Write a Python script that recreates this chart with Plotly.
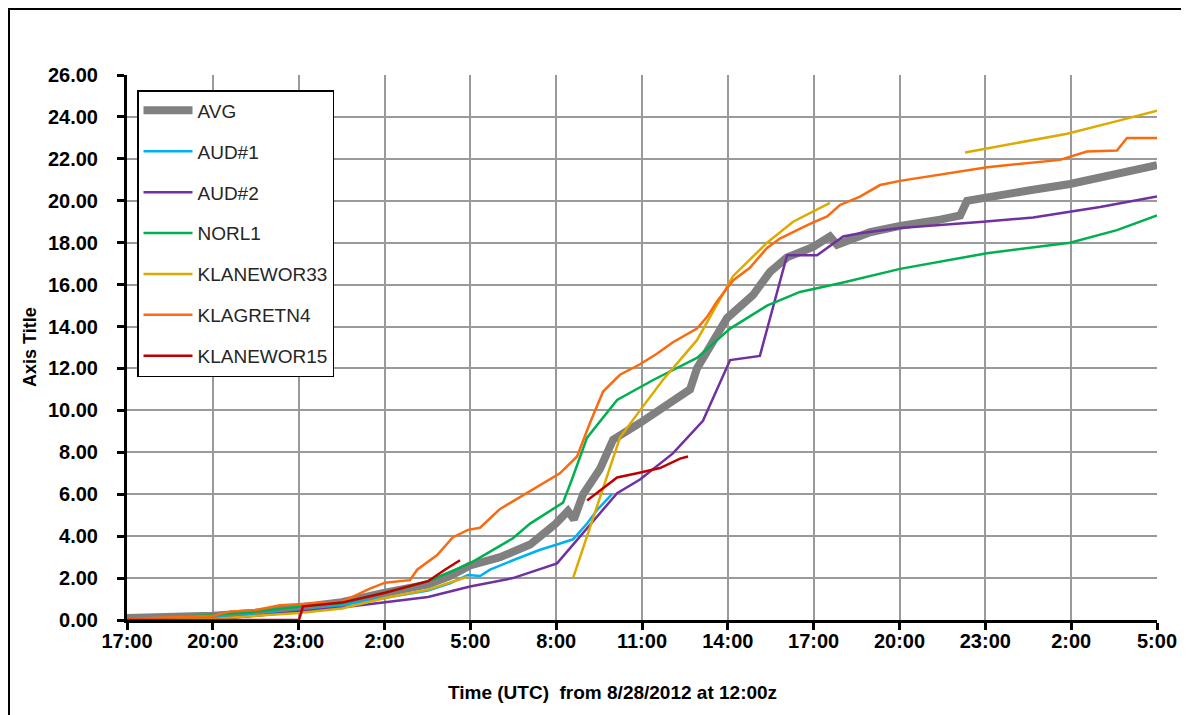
import plotly.graph_objects as go

# ---- data (hours after 17:00 on 8/28/2012) ----
TICK_VALS = [0, 3, 6, 9, 12, 15, 18, 21, 24, 27, 30, 33, 36]
TICK_LABELS = ["17:00", "20:00", "23:00", "2:00", "5:00", "8:00", "11:00",
               "14:00", "17:00", "20:00", "23:00", "2:00", "5:00"]

AVG_T = [0, 1.5, 3.01, 4.51, 6.01, 7.51, 9.02, 10.52, 11.29, 11.99, 13.04, 14.09, 14.99, 15.41, 15.62,
         15.94, 16.53, 16.99, 17.93, 18.87, 19.68, 19.92, 20.55, 20.97, 21.88, 22.47, 23.07, 23.98, 24.57,
         24.82, 25.97, 27.02, 28.42, 29.12, 29.36, 30.51, 31.56, 32.96, 34.36, 36.0]
AVG_V = [0.1, 0.15, 0.2, 0.35, 0.6, 0.85, 1.3, 1.7, 2.1, 2.6, 3.0, 3.6, 4.6, 5.2, 4.8,
         6.0, 7.2, 8.6, 9.4, 10.2, 11.0, 12.0, 13.5, 14.4, 15.5, 16.6, 17.3, 17.8, 18.3,
         17.9, 18.5, 18.8, 19.1, 19.3, 20.0, 20.3, 20.5, 20.8, 21.2, 21.7]

AUD1_T = [0, 3.01, 4.51, 6.01, 7.51, 9.02, 10.52, 11.29, 11.92, 12.34, 12.69, 13.49, 14.44, 15.03,
          15.59, 16.08, 16.43, 16.95]
AUD1_V = [0.05, 0.1, 0.25, 0.4, 0.7, 1.05, 1.4, 1.75, 2.15, 2.1, 2.4, 2.85, 3.35, 3.6,
          3.85, 4.6, 5.25, 6.0]

AUD2_T = [0, 3.01, 4.51, 6.01, 7.51, 9.02, 10.52, 11.99, 13.49, 15.03, 15.94, 17.13, 17.93, 19.08,
          20.13, 20.83, 21.08, 22.12, 23.07, 24.12, 25.03, 25.62, 27.02, 29.92, 31.67, 34.01, 36.0]
AUD2_V = [0.0, 0.05, 0.2, 0.4, 0.6, 0.85, 1.1, 1.6, 2.0, 2.7, 4.15, 6.05, 6.7, 7.95,
          9.5, 11.6, 12.4, 12.6, 17.4, 17.4, 18.3, 18.45, 18.7, 19.0, 19.2, 19.7, 20.2]

NORL1_T = [0, 1.5, 3.01, 4.51, 6.01, 7.51, 9.02, 10.52, 11.99, 13.49, 14.09, 14.89, 15.24, 15.55,
           16.08, 17.13, 18.39, 19.92, 21.08, 22.37, 23.52, 25.03, 27.02, 30.06, 32.96, 34.6, 36.0]
NORL1_V = [0.05, 0.1, 0.25, 0.4, 0.63, 0.8, 1.3, 1.85, 2.7, 3.9, 4.6, 5.3, 5.6, 6.7,
           8.7, 10.5, 11.45, 12.5, 13.9, 15.0, 15.65, 16.1, 16.75, 17.5, 18.0, 18.6, 19.3]

KLW33_T = [0, 3.01, 4.51, 6.01, 7.51, 9.02, 10.52, 11.88, None,
           15.59, 17.23, 17.93, 18.73, 19.92, 20.27, 20.97, 21.18, 22.37, 23.28, 24.57, None,
           29.29, 30.51, 31.56, 32.86, 34.6, 36.0]
KLW33_V = [0.0, 0.05, 0.2, 0.33, 0.55, 1.05, 1.45, 2.05, None,
           2.0, 8.7, 10.0, 11.45, 13.35, 14.2, 15.9, 16.4, 18.0, 19.0, 19.9, None,
           22.3, 22.6, 22.85, 23.2, 23.8, 24.3]

KLG4_T = [0, 3.01, 3.6, 4.51, 5.35, 6.01, 7.51, 8.49, 9.02, 9.89, 10.14, 10.84, 11.39, 11.92, 12.34,
          13.04, 13.84, 14.68, 15.13, 15.73, 16.18, 16.64, 17.23, 17.93, 18.52, 19.08, 19.92, 20.27,
          20.62, 21.18, 21.77, 22.37, 22.82, 23.28, 23.87, 24.47, 24.92, 25.62, 26.32, 27.02, 30.06,
          32.61, 33.55, 34.6, 34.95, 36.0]
KLG4_V = [0.05, 0.2, 0.4, 0.48, 0.7, 0.75, 0.87, 1.5, 1.78, 1.9, 2.4, 3.1, 3.95, 4.3, 4.4,
          5.3, 5.95, 6.6, 7.0, 7.8, 9.4, 10.9, 11.7, 12.2, 12.7, 13.25, 13.9, 14.45,
          15.2, 16.2, 16.8, 17.75, 18.2, 18.5, 18.9, 19.25, 19.8, 20.2, 20.75, 20.95, 21.6,
          21.95, 22.35, 22.4, 23.0, 23.0]

KLW15_T = [0, 6.01, 6.15, 7.51, 9.02, 10.52, 11.11, 11.64, None,
           16.08, 16.64, 17.13, 17.83, 18.63, 19.33, 19.61]
KLW15_V = [0, 0, 0.65, 0.83, 1.3, 1.85, 2.4, 2.85, None,
           5.7, 6.3, 6.8, 7.0, 7.25, 7.7, 7.8]

SERIES = [
    ("AVG", AVG_T, AVG_V, "#808080", 8),
    ("AUD#1", AUD1_T, AUD1_V, "#00B0F0", 2.5),
    ("AUD#2", AUD2_T, AUD2_V, "#7030A0", 2.5),
    ("NORL1", NORL1_T, NORL1_V, "#00B050", 2.5),
    ("KLANEWOR33", KLW33_T, KLW33_V, "#DDAA00", 2.5),
    ("KLAGRETN4", KLG4_T, KLG4_V, "#FA6A0F", 2.5),
    ("KLANEWOR15", KLW15_T, KLW15_V, "#C00000", 2.5),
]

FONT = "Liberation Sans, Arial, sans-serif"

fig = go.Figure()
for name, t, v, color, w in SERIES:
    fig.add_trace(go.Scatter(
        x=t, y=v, name=name, mode="lines", legendgroup=name,
        line=dict(color=color, width=w), connectgaps=False,
    ))

# page has an 8px body margin; plot area on screen: x 127..1157, y 75..620
OFF = 8
L, R, T, B = 127 - OFF, 1157 - OFF, 75 - OFF, 620 - OFF
W, H = 1189 - OFF, 715 - OFF
def px(xs):
    return (xs - OFF - L) / (R - L)
def py(ys):
    return (B - (ys - OFF)) / (B - T)

fig.update_layout(
    width=W, height=H, autosize=False,
    margin=dict(l=L, r=W - R, t=T, b=H - B),
    paper_bgcolor="white", plot_bgcolor="white",
    font=dict(family=FONT, color="black"),
    showlegend=True,
    legend=dict(
        x=px(137), y=py(90), xanchor="left", yanchor="top",
        bgcolor="white", bordercolor="black", borderwidth=1.5,
        font=dict(size=19, color="#262626", family=FONT),
        tracegroupgap=13.2, itemwidth=49,
    ),
    xaxis=dict(
        range=[0, 36], tickmode="array", tickvals=TICK_VALS, ticktext=TICK_LABELS,
        showgrid=True, gridcolor="#9a9a9a", gridwidth=1.5,
        showline=True, linecolor="black", linewidth=3,
        ticks="outside", ticklen=7, tickwidth=2.5, tickcolor="black",
        tickfont=dict(size=20, weight="bold", color="black", family=FONT),
        ticklabelstandoff=-6, layer="below traces",
        zeroline=False,
    ),
    yaxis=dict(
        range=[0, 26], dtick=2, tick0=0, tickformat=".2f",
        showgrid=True, gridcolor="#9a9a9a", gridwidth=1.5,
        showline=True, linecolor="black", linewidth=3,
        ticks="outside", ticklen=7, tickwidth=2.5, tickcolor="black",
        tickfont=dict(size=20, weight="bold", color="black", family=FONT),
        ticklabelstandoff=15,
        zeroline=False,
    ),
    annotations=[
        dict(text="Axis Title", textangle=-90, x=px(30), y=py(347), xref="paper", yref="paper",
             xanchor="center", yanchor="middle", showarrow=False,
             font=dict(size=18, weight="bold", color="black", family=FONT)),
        dict(text="Time (UTC)\u00a0 from 8/28/2012 at 12:00z", x=px(612), y=py(692),
             xref="paper", yref="paper", xanchor="center", yanchor="middle", showarrow=False,
             font=dict(size=19, weight="bold", color="black", family=FONT)),
    ],
    shapes=[
        dict(type="rect", xref="paper", yref="paper",
             x0=px(9), y0=py(740), x1=px(1210), y1=py(9),
             line=dict(color="black", width=2), fillcolor="rgba(0,0,0,0)", layer="below"),
    ],
)

fig.write_html("out.html")
